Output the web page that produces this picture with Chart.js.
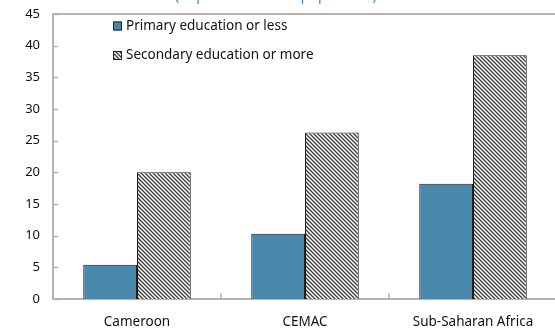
<!DOCTYPE html>
<html>
<head>
<meta charset="utf-8">
<script src="https://cdn.jsdelivr.net/npm/chart.js@4.4.0/dist/chart.umd.min.js"></script>
<style>
  html, body { margin: 0; padding: 0; background: #fff; overflow: hidden; }
  #wrap { width: 558px; height: 330px; position: relative; }
</style>
</head>
<body>
<div id="wrap"><canvas id="eduChart"></canvas></div>
<script>
// Categories and series
const regions   = ['Cameroon', 'CEMAC', 'Sub-Saharan Africa'];
const primary   = [5.4, 10.3, 18.2];
const secondary = [20.0, 26.3, 38.5];
const yTicks    = [0, 5, 10, 15, 20, 25, 30, 35, 40, 45];
const seriesNames = ['Primary education or less', 'Secondary education or more'];
const subtitle  = '(In percent of total population)';

const FONT = '"Noto Sans", "Open Sans", sans-serif';

// Diagonal hatch fill for the second series
function makeHatch() {
    const c = document.createElement('canvas');
    c.width = 4; c.height = 4;
    const g = c.getContext('2d');
    g.fillStyle = '#fff';
    g.fillRect(0, 0, 4, 4);
    g.strokeStyle = '#3a3a3a';
    g.lineWidth = 1.3;
    g.beginPath();
    g.moveTo(-1, -1); g.lineTo(5, 5);
    g.moveTo(-1, 3);  g.lineTo(1, 5);
    g.moveTo(3, -1);  g.lineTo(5, 1);
    g.stroke();
    return g.createPattern(c, 'repeat');
}
const hatch = makeHatch();

// Frame, inner tick marks, clipped subtitle and in-plot legend
const decorations = {
    id: 'decorations',
    beforeDatasetsDraw(chart) {
        const { ctx, chartArea: a, scales: { x, y } } = chart;
        ctx.save();
        ctx.strokeStyle = '#b4b4b4';
        ctx.lineWidth = 2;
        ctx.strokeRect(a.left, a.top, a.right - a.left + 4, a.bottom - a.top);
        ctx.lineWidth = 1.5;
        ctx.beginPath();
        yTicks.forEach(v => {
            const py = Math.round(y.getPixelForValue(v)) + 0.5;
            ctx.moveTo(a.left, py); ctx.lineTo(a.left + 5, py);
        });
        for (let i = 0; i < regions.length - 1; i++) {
            const px = (x.getPixelForValue(i) + x.getPixelForValue(i + 1)) / 2;
            ctx.moveTo(px, a.bottom); ctx.lineTo(px, a.bottom - 6);
        }
        ctx.stroke();
        ctx.restore();
    },
    afterDraw(chart) {
        const { ctx } = chart;
        ctx.save();
        // subtitle sits mostly above the visible area
        ctx.fillStyle = '#3b8ad6';
        ctx.font = '14px ' + FONT;
        ctx.textBaseline = 'alphabetic';
        ctx.textAlign = 'left';
        ctx.fillText(subtitle, 175, 0);

        ctx.font = '13.5px ' + FONT;
        ctx.textBaseline = 'middle';
        const rows = [26, 55.5];
        chart.data.datasets.forEach((ds, i) => {
            ctx.fillStyle = ds.backgroundColor;
            ctx.fillRect(113, rows[i] - 4.5, 9, 9);
            ctx.strokeStyle = '#222';
            ctx.lineWidth = 1;
            ctx.strokeRect(113.5, rows[i] - 4, 8, 8);
            ctx.fillStyle = '#111';
            ctx.fillText(ds.label, 126, rows[i]);
        });
        ctx.restore();
    }
};

new Chart(document.getElementById('eduChart'), {
    type: 'bar',
    data: {
        labels: regions,
        datasets: [
            { label: seriesNames[0], data: primary, backgroundColor: '#4a89ad',
              borderColor: '#1e1e1e', borderWidth: 1, borderSkipped: 'bottom' },
            { label: seriesNames[1], data: secondary, backgroundColor: hatch,
              borderColor: '#1e1e1e', borderWidth: 1, borderSkipped: 'bottom' }
        ]
    },
    options: {
        responsive: true,
        maintainAspectRatio: false,
        animation: false,
        layout: { padding: { left: 0, top: 14, right: 1, bottom: 0 } },
        datasets: { bar: { categoryPercentage: 0.64, barPercentage: 1.0 } },
        plugins: { legend: { display: false }, tooltip: { enabled: false } },
        scales: {
            x: {
                grid: { display: false, drawTicks: false },
                border: { display: false },
                ticks: { color: '#111', padding: 15, font: { family: FONT, size: 13.5 } },
                afterFit: s => { s.height = 31; s.paddingLeft = 0; s.paddingRight = 0; }
            },
            y: {
                min: 0, max: 45,
                grid: { display: false, drawTicks: false },
                border: { display: false },
                afterBuildTicks: s => { s.ticks = yTicks.map(v => ({ value: v })); },
                ticks: { color: '#111', padding: 13, font: { family: FONT, size: 13 } },
                afterFit: s => { s.width = 53; s.paddingTop = 0; s.paddingBottom = 0; }
            }
        }
    },
    plugins: [decorations]
});
</script>
</body>
</html>
